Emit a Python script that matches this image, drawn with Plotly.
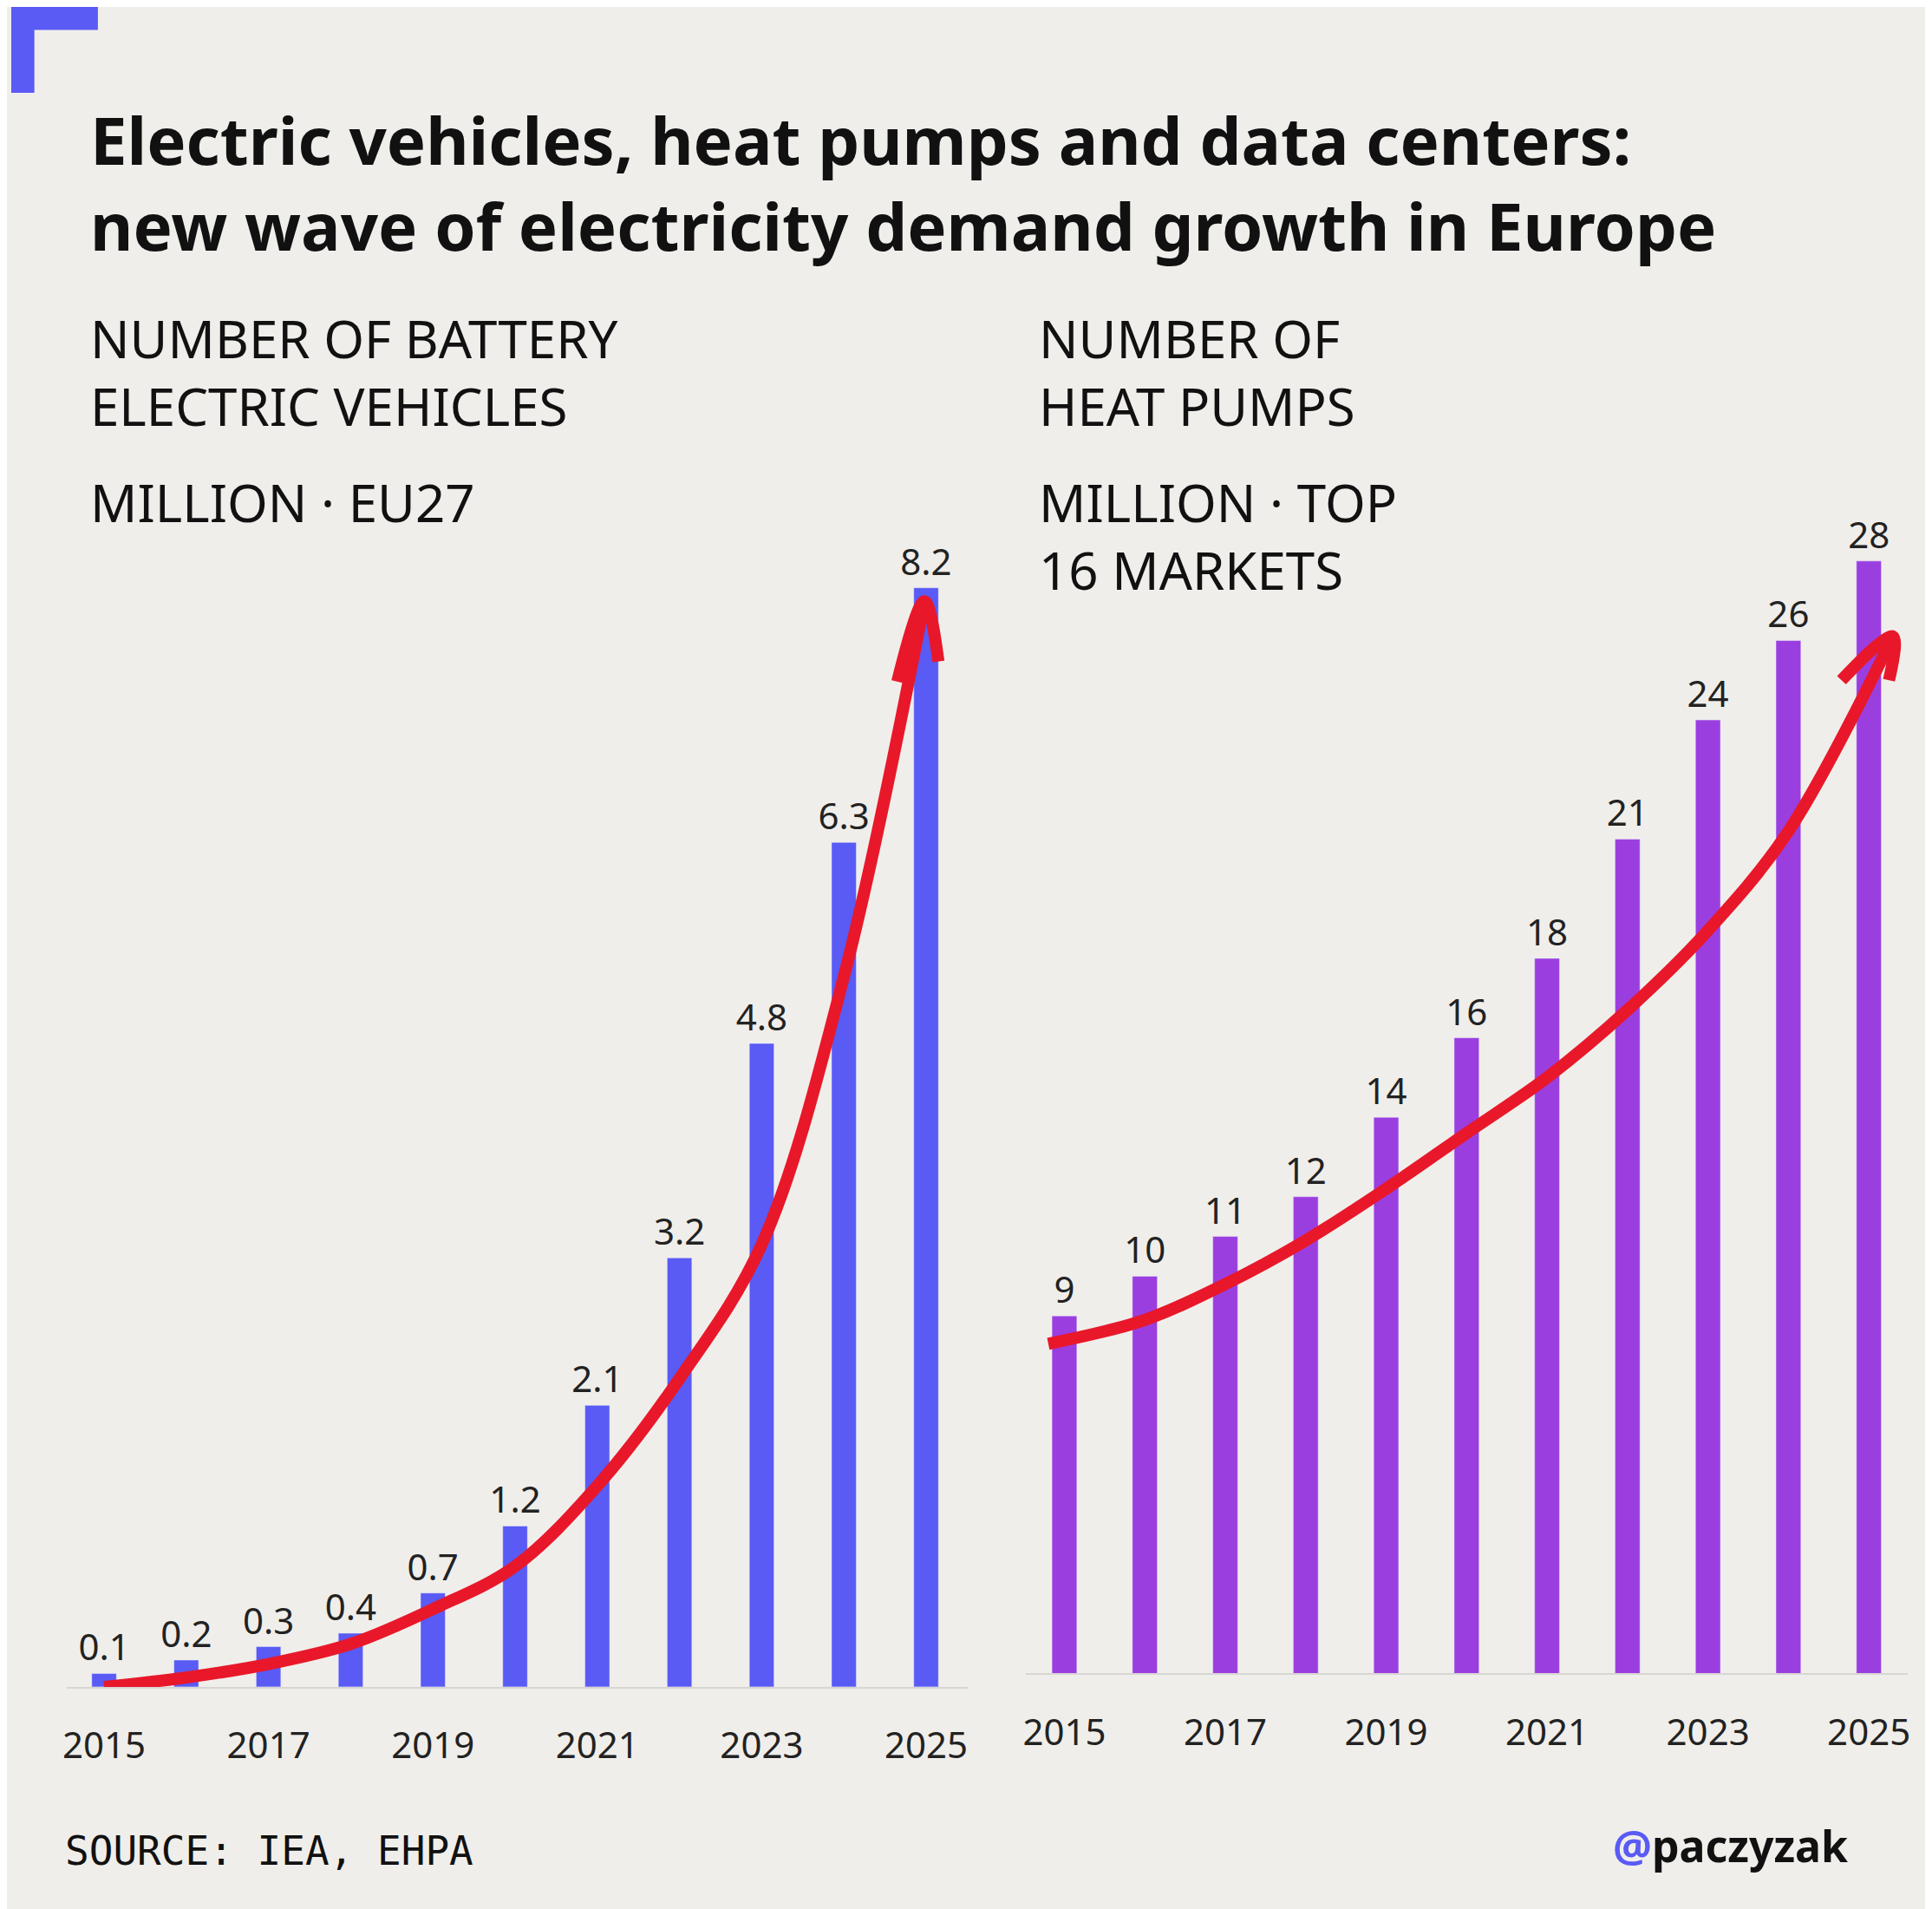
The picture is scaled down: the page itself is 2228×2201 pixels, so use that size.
import plotly.graph_objects as go

# data
years = list(range(2015, 2026))
bev = [0.1, 0.2, 0.3, 0.4, 0.7, 1.2, 2.1, 3.2, 4.8, 6.3, 8.2]
bev_labels = ['0.1', '0.2', '0.3', '0.4', '0.7', '1.2', '2.1', '3.2', '4.8', '6.3', '8.2']
pumps = [9, 10, 11, 12, 14, 16, 18, 21, 24, 26, 28]
pump_labels = ['9', '10', '11', '12', '14', '16', '18', '21', '24', '26', '28']

# hand-drawn trend arrows
bev_trend_x = [2015, 2016, 2017, 2018, 2019, 2020, 2021, 2022, 2023, 2024, 2024.98]
bev_trend_y = [0.0, 0.07, 0.17, 0.32, 0.58, 0.9, 1.5, 2.3, 3.3, 5.3, 8.1]
bev_head_x = [2024.65, 2024.98, 2025.15]
bev_head_y = [7.5, 8.1, 7.65]
pump_trend_x = [2014.8, 2016, 2017, 2018, 2019, 2020, 2021, 2022, 2023, 2024, 2025.3]
pump_trend_y = [8.3, 8.9, 9.8, 10.9, 12.2, 13.6, 15.0, 16.7, 18.7, 21.2, 26.1]
pump_head_x = [2024.66, 2025.3, 2025.25]
pump_head_y = [25.0, 26.1, 25.0]

bg = '#f0eeea'
blue = '#5a5af5'
purple = '#9b3ee0'
red = '#e8182a'
font = 'Noto Sans'

fig = go.Figure()

fig.add_trace(go.Bar(x=years, y=bev, width=0.3, marker_color=blue,
                     text=bev_labels, textposition='outside', cliponaxis=False, constraintext='none',
                     textfont=dict(size=42, color='#222'), xaxis='x', yaxis='y'))
fig.add_trace(go.Bar(x=years, y=pumps, width=0.31, marker_color=purple,
                     text=pump_labels, textposition='outside', cliponaxis=False, constraintext='none',
                     textfont=dict(size=42, color='#222'), xaxis='x2', yaxis='y2'))

for tx, ty, ax, ay in [(bev_trend_x, bev_trend_y, 'x', 'y'), (bev_head_x, bev_head_y, 'x', 'y'),
                       (pump_trend_x, pump_trend_y, 'x2', 'y2'), (pump_head_x, pump_head_y, 'x2', 'y2')]:
    fig.add_trace(go.Scatter(x=tx, y=ty, mode='lines', line=dict(color=red, width=14, shape='spline'),
                             cliponaxis=False, xaxis=ax, yaxis=ay))

axis_x = dict(tickvals=[2015, 2017, 2019, 2021, 2023, 2025], showgrid=False, zeroline=False,
              showline=True, linecolor='#d8d6d2', linewidth=2, ticks='outside', ticklen=30,
              tickcolor='rgba(0,0,0,0)', tickfont=dict(size=42, color='#222'))
axis_y = dict(visible=False, showgrid=False, zeroline=False)

fig.update_layout(
    width=2228, height=2201, margin=dict(l=0, r=0, t=0, b=0),
    paper_bgcolor=bg, plot_bgcolor=bg, showlegend=False,
    font=dict(family=font, color='#222'),
    xaxis=dict(axis_x, domain=[0.029, 0.497], range=[2014.55, 2025.51]),
    yaxis=dict(axis_y, domain=[0.12, 0.787], range=[0, 9.5]),
    xaxis2=dict(axis_x, domain=[0.527, 0.985], range=[2014.52, 2025.48], anchor='y2'),
    yaxis2=dict(axis_y, domain=[0.127, 0.793], range=[0, 32], anchor='x2'),
)

fig.add_shape(type='rect', xref='paper', yref='paper', x0=0, x1=0.045, y0=0.988, y1=1,
              fillcolor=blue, line_width=0)
fig.add_shape(type='rect', xref='paper', yref='paper', x0=0, x1=0.012, y0=0.955, y1=1,
              fillcolor=blue, line_width=0)

def note(text, x, y, size, anchor='left', yanchor='top', **kw):
    fig.add_annotation(text=text, x=x, y=y, xref='paper', yref='paper', showarrow=False,
                       xanchor=anchor, yanchor=yanchor, align=anchor,
                       font=dict(size=size, family=kw.get('family', font), color='#111'))

note('<b>Electric vehicles, heat pumps and data centers:<br>new wave of electricity demand growth in Europe</b>',
     0.040, 0.955, 76)
note('NUMBER OF BATTERY<br>ELECTRIC VEHICLES', 0.040, 0.846, 60)
note('MILLION · EU27', 0.040, 0.760, 60)
note('NUMBER OF<br>HEAT PUMPS', 0.533, 0.846, 60)
note('MILLION · TOP<br>16 MARKETS', 0.533, 0.760, 60)
note('SOURCE: IEA, EHPA', 0.027, 0.034, 46, yanchor='middle', family='DejaVu Sans Mono')
note('<b><span style="color:#5a5af5">@</span>paczyzak</b>', 0.955, 0.037, 50, anchor='right', yanchor='middle')

fig.write_html('out.html')
